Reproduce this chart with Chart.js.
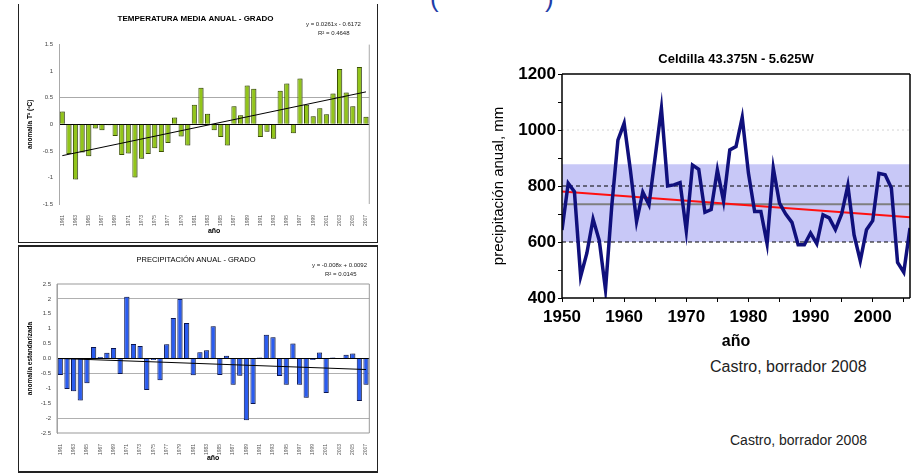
<!DOCTYPE html>
<html>
<head>
<meta charset="utf-8">
<script src="https://cdn.jsdelivr.net/npm/chart.js@4.4.0/dist/chart.umd.min.js"></script>
<style>
  body { margin: 0; background: #fff; width: 917px; height: 473px; overflow: hidden; position: relative;
         font-family: "Liberation Sans", Arial, sans-serif; }
  .abs { position: absolute; white-space: nowrap; }
  .panel { position: absolute; box-sizing: content-box; }
  #p1 { left: 18px; top: 4px; width: 358px; height: 238px; border-left: 1px solid #222; border-right: 1px solid #222; border-bottom: 1px solid #222; }
  #p2 { left: 18px; top: 245px; width: 358px; height: 224px; border: 1px solid #222; border-top-width: 2px; border-bottom-width: 2px; }
  canvas { position: absolute; }
  #tempChart { left: 19px; top: 5px; }
  #precChart { left: 19px; top: 248px; }
  #celdChart { left: 490px; top: 40px; }
  .eq { font-size: 6px; color: #222; }
  .note { color: #222; }
  .paren { color: #1f3ea8; font-size: 26px; top: -17px; }
</style>
</head>
<body>
<div class="abs paren" style="left:430px">(</div>
<div class="abs paren" style="left:545px">)</div>

<div class="panel" id="p1"></div>
<div class="panel" id="p2"></div>

<canvas id="tempChart" width="356" height="235"></canvas>
<canvas id="precChart" width="356" height="222"></canvas>
<canvas id="celdChart" width="427" height="312"></canvas>

<div class="abs eq" style="left:306px;top:21px">y = 0.0261x - 0.6172</div>
<div class="abs eq" style="left:318px;top:30px">R² = 0.4648</div>
<div class="abs eq" style="left:312px;top:262px">y = -0.008x + 0.0092</div>
<div class="abs eq" style="left:325px;top:271px">R² = 0.0145</div>

<div class="abs note" style="left:710px;top:358px;font-size:16px">Castro, borrador 2008</div>
<div class="abs note" style="left:730px;top:432px;font-size:14px">Castro, borrador 2008</div>

<script>
// Grado (left panels): annual anomalies 1961-2007
const gradoYears = [1961, 1962, 1963, 1964, 1965, 1966, 1967, 1968, 1969, 1970,
  1971, 1972, 1973, 1974, 1975, 1976, 1977, 1978, 1979, 1980,
  1981, 1982, 1983, 1984, 1985, 1986, 1987, 1988, 1989, 1990,
  1991, 1992, 1993, 1994, 1995, 1996, 1997, 1998, 1999, 2000,
  2001, 2002, 2003, 2004, 2005, 2006, 2007];

const tempAnomaly = [0.24, -0.56, -1.04, -0.53, -0.60, -0.08, -0.11, -0.02, -0.22, -0.58,
  -0.55, -1.00, -0.65, -0.56, -0.45, -0.52, -0.35, 0.13, -0.23, -0.40,
  0.37, 0.69, 0.20, -0.11, -0.24, -0.40, 0.34, 0.17, 0.73, 0.67,
  -0.24, -0.14, -0.27, 0.63, 0.77, -0.17, 0.86, 0.37, 0.15, 0.30,
  0.19, 0.58, 1.04, 0.60, 0.34, 1.08, 0.14];
const tempTrend = [{ x: "1961", y: -0.59 }, { x: "2007", y: 0.61 }];

const precAnomaly = [-0.55, -1.02, -1.10, -1.41, -0.83, 0.39, 0.05, 0.19, 0.35, -0.52,
  2.07, 0.49, 0.42, -1.06, -0.05, -0.73, 0.48, 1.36, 2.00, 1.19,
  -0.56, 0.21, 0.28, 1.08, -0.55, 0.09, -0.88, -0.58, -2.07, -1.53,
  0.03, 0.80, 0.71, -0.59, -0.88, 0.50, -0.88, -1.32, -0.05, 0.20,
  -1.16, 0.03, 0.00, 0.13, 0.17, -1.43, -0.88];
const precTrend = [{ x: "1961", y: 0.0 }, { x: "2007", y: -0.37 }];

// Celdilla 43.375N - 5.625W: annual precipitation (mm) 1950-2006
const celdYears = [1950, 1951, 1952, 1953, 1954, 1955, 1956, 1957, 1958, 1959,
  1960, 1961, 1962, 1963, 1964, 1965, 1966, 1967, 1968, 1969,
  1970, 1971, 1972, 1973, 1974, 1975, 1976, 1977, 1978, 1979,
  1980, 1981, 1982, 1983, 1984, 1985, 1986, 1987, 1988, 1989,
  1990, 1991, 1992, 1993, 1994, 1995, 1996, 1997, 1998, 1999,
  2000, 2001, 2002, 2003, 2004, 2005, 2006];
const celdPrecip = [643, 810, 780, 477, 560, 682, 605, 430, 726, 964,
  1024, 857, 673, 778, 733, 905, 1077, 800, 804, 812,
  640, 875, 860, 706, 716, 857, 746, 929, 941, 1045,
  846, 709, 709, 594, 864, 739, 700, 670, 590, 590,
  632, 594, 697, 686, 644, 700, 802, 625, 533, 644,
  676, 845, 840, 793, 527, 492, 650];
const celdTrend = [{ x: 1950, y: 780 }, { x: 2006, y: 688 }];
const celdMean = 735;
const celdBandTop = 878;
const celdBandBottom = 600;
const celdDashed = [800, 600];
const celdGrid = 1000;

Chart.defaults.font.family = '"Liberation Sans", Arial, sans-serif';
Chart.defaults.color = "#333";

// grey drop shadow to the right of each bar, like the Excel 3-D look
const barShadow = {
  id: "barShadow",
  beforeDatasetDraw(chart, args) {
    if (args.meta.type !== "bar") return;
    const ctx = chart.ctx;
    ctx.save();
    ctx.shadowColor = "rgba(110,110,110,0.6)";
    ctx.shadowOffsetX = 2;
    ctx.shadowOffsetY = 0;
    ctx.shadowBlur = 0;
  },
  afterDatasetDraw(chart, args) {
    if (args.meta.type === "bar") chart.ctx.restore();
  },
};

// border around the plot area (only the listed sides)
const frame = {
  id: "frame",
  afterDraw(chart, args, opts) {
    if (!opts.sides) return;
    const { ctx, chartArea: a } = chart;
    ctx.save();
    ctx.strokeStyle = opts.color;
    ctx.lineWidth = opts.width;
    ctx.beginPath();
    if (opts.sides.includes("t")) { ctx.moveTo(a.left, a.top); ctx.lineTo(a.right, a.top); }
    if (opts.sides.includes("r")) { ctx.moveTo(a.right, a.top); ctx.lineTo(a.right, a.bottom); }
    if (opts.sides.includes("b")) { ctx.moveTo(a.left, a.bottom); ctx.lineTo(a.right, a.bottom); }
    if (opts.sides.includes("l")) { ctx.moveTo(a.left, a.top); ctx.lineTo(a.left, a.bottom); }
    ctx.stroke();
    ctx.restore();
  },
};

function everyOther(v, i) {
  return i % 2 === 0 ? this.getLabelForValue(v) : "";
}

function gradoChart(id, opts) {
  return new Chart(document.getElementById(id), {
    type: "bar",
    data: {
      labels: gradoYears.map(String),
      datasets: [
        { type: "line", data: opts.trend, borderColor: "#000", borderWidth: 1,
          pointRadius: 0, order: 0 },
        { type: "bar", data: opts.values, backgroundColor: opts.fill, borderColor: opts.edge,
          borderWidth: 1, barPercentage: 0.78, categoryPercentage: 1, order: 1 },
      ],
    },
    options: {
      responsive: false,
      animation: false,
      layout: { padding: { left: 0, right: opts.padRight, top: 0, bottom: 0 } },
      plugins: {
        legend: { display: false },
        tooltip: { enabled: false },
        title: {
          display: true, text: opts.title, color: "#000",
          font: { size: opts.titleSize, weight: opts.titleWeight },
          padding: opts.titlePad,
        },
        frame: opts.frame,
      },
      scales: {
        x: {
          grid: { display: false },
          border: { display: false },
          ticks: { autoSkip: false, minRotation: 90, maxRotation: 90, font: { size: 5 },
                   color: "#555", padding: 3, callback: everyOther },
          title: { display: true, text: "año", color: "#000", font: { size: 7, weight: "bold" },
                   padding: { top: 0, bottom: opts.xTitlePad } },
          afterFit(s) { s.height = opts.xHeight; },
        },
        y: {
          min: opts.min, max: opts.max,
          ticks: { stepSize: 0.5, font: { size: 6 }, color: "#444", padding: 6,
                   callback: opts.yFormat },
          grid: { drawTicks: false, color: opts.gridColor },
          border: { color: "#aaa" },
          title: { display: true, text: opts.yTitle, color: "#000", font: { size: 6.5, weight: "bold" },
                   padding: { top: 7, bottom: 0 } },
          afterFit(s) { s.width = opts.yWidth; },
        },
      },
    },
    plugins: [barShadow, frame],
  });
}

gradoChart("tempChart", {
  title: "TEMPERATURA MEDIA ANUAL - GRADO", titleSize: 8, titleWeight: "bold",
  titlePad: { top: 8.5, bottom: 21.5 },
  values: tempAnomaly, trend: tempTrend, fill: "#92c51a", edge: "#3b5200",
  min: -1.5, max: 1.5, yWidth: 40, xHeight: 36, xTitlePad: 5, padRight: 3,
  yTitle: "anomalía Tª (ºC)",
  yFormat: (v) => String(v),
  gridColor: (c) => c.tick.value === 0 ? "#000" : c.tick.value === 0.5 ? "#aaa" : "rgba(0,0,0,0)",
  frame: { sides: "r", color: "#aaa", width: 1 },
});

gradoChart("precChart", {
  title: "PRECIPITACIÓN ANUAL - GRADO", titleSize: 7.5, titleWeight: "normal",
  titlePad: { top: 7.5, bottom: 19.5 },
  values: precAnomaly, trend: precTrend, fill: "#2a5cf0", edge: "#0b1650",
  min: -2.5, max: 2.5, yWidth: 38, xHeight: 37, xTitlePad: 8, padRight: 2,
  yTitle: "anomalía estandarizada",
  yFormat: (v) => v === 0 ? "0.0" : String(v),
  gridColor: (c) => c.tick.value === 0 ? "#000"
    : [2, -0.5, -2].includes(c.tick.value) ? "#b0b0b0" : "rgba(0,0,0,0)",
  frame: { sides: "trbl", color: "#999", width: 1 },
});

const celdPoints = celdYears.map((y, i) => ({ x: y, y: celdPrecip[i] }));
const span = (v) => [{ x: celdYears[0], y: v }, { x: celdYears[celdYears.length - 1], y: v }];

new Chart(document.getElementById("celdChart"), {
  type: "line",
  data: {
    datasets: [
      { data: span(celdBandTop), borderWidth: 0, pointRadius: 0,
        backgroundColor: "#c8c8f7", fill: { value: celdBandBottom }, order: 6 },
      { data: span(celdGrid), borderColor: "#d4d4d4", borderWidth: 1, borderDash: [2, 3],
        pointRadius: 0, order: 5 },
      ...celdDashed.map((v) => ({ data: span(v), borderColor: "#000", borderWidth: 1,
        borderDash: [4, 3], pointRadius: 0, order: 4 })),
      { data: span(celdMean), borderColor: "#7f7f7f", borderWidth: 2, pointRadius: 0, order: 3 },
      { data: celdTrend, borderColor: "#ff1010", borderWidth: 2, pointRadius: 0, order: 2 },
      { data: celdPoints, borderColor: "#10107c", borderWidth: 3.5, pointRadius: 0, order: 1 },
    ],
  },
  options: {
    responsive: false,
    animation: false,
    layout: { padding: { left: 0, right: 7, top: 0, bottom: 0 } },
    plugins: {
      legend: { display: false },
      tooltip: { enabled: false },
      title: {
        display: true, text: "Celdilla 43.375N - 5.625W", color: "#000", fullSize: false,
        font: { size: 13, weight: "bold" }, padding: { top: 12, bottom: 6.4 },
      },
      frame: { sides: "trbl", color: "#000", width: 1.5 },
    },
    scales: {
      x: {
        type: "linear", min: 1950, max: 2006,
        ticks: { stepSize: 5, includeBounds: false, autoSkip: false, minRotation: 0, maxRotation: 0,
                 color: "#000", font: { size: 17, weight: "bold" }, padding: 5,
                 callback: (v) => (v % 10 === 0 ? String(v) : "") },
        grid: { drawOnChartArea: false, tickLength: 4, color: "#000" },
        border: { display: false },
        title: { display: true, text: "año", color: "#000", font: { size: 16, weight: "bold" },
                 padding: { top: 0, bottom: 1 } },
        afterFit(s) { s.height = 54; },
      },
      y: {
        min: 400, max: 1200,
        ticks: { stepSize: 50, color: "#000", font: { size: 17, weight: "bold" }, padding: 2,
                 callback: (v) => (v % 200 === 0 ? String(v) : "") },
        grid: { drawOnChartArea: false, tickLength: 4, color: "#000" },
        border: { display: false },
        title: { display: true, text: "precipitación anual, mm", color: "#000", font: { size: 15 },
                 padding: { top: 0, bottom: 0 } },
        afterFit(s) { s.width = 72; },
      },
    },
  },
  plugins: [frame],
});
</script>
</body>
</html>
